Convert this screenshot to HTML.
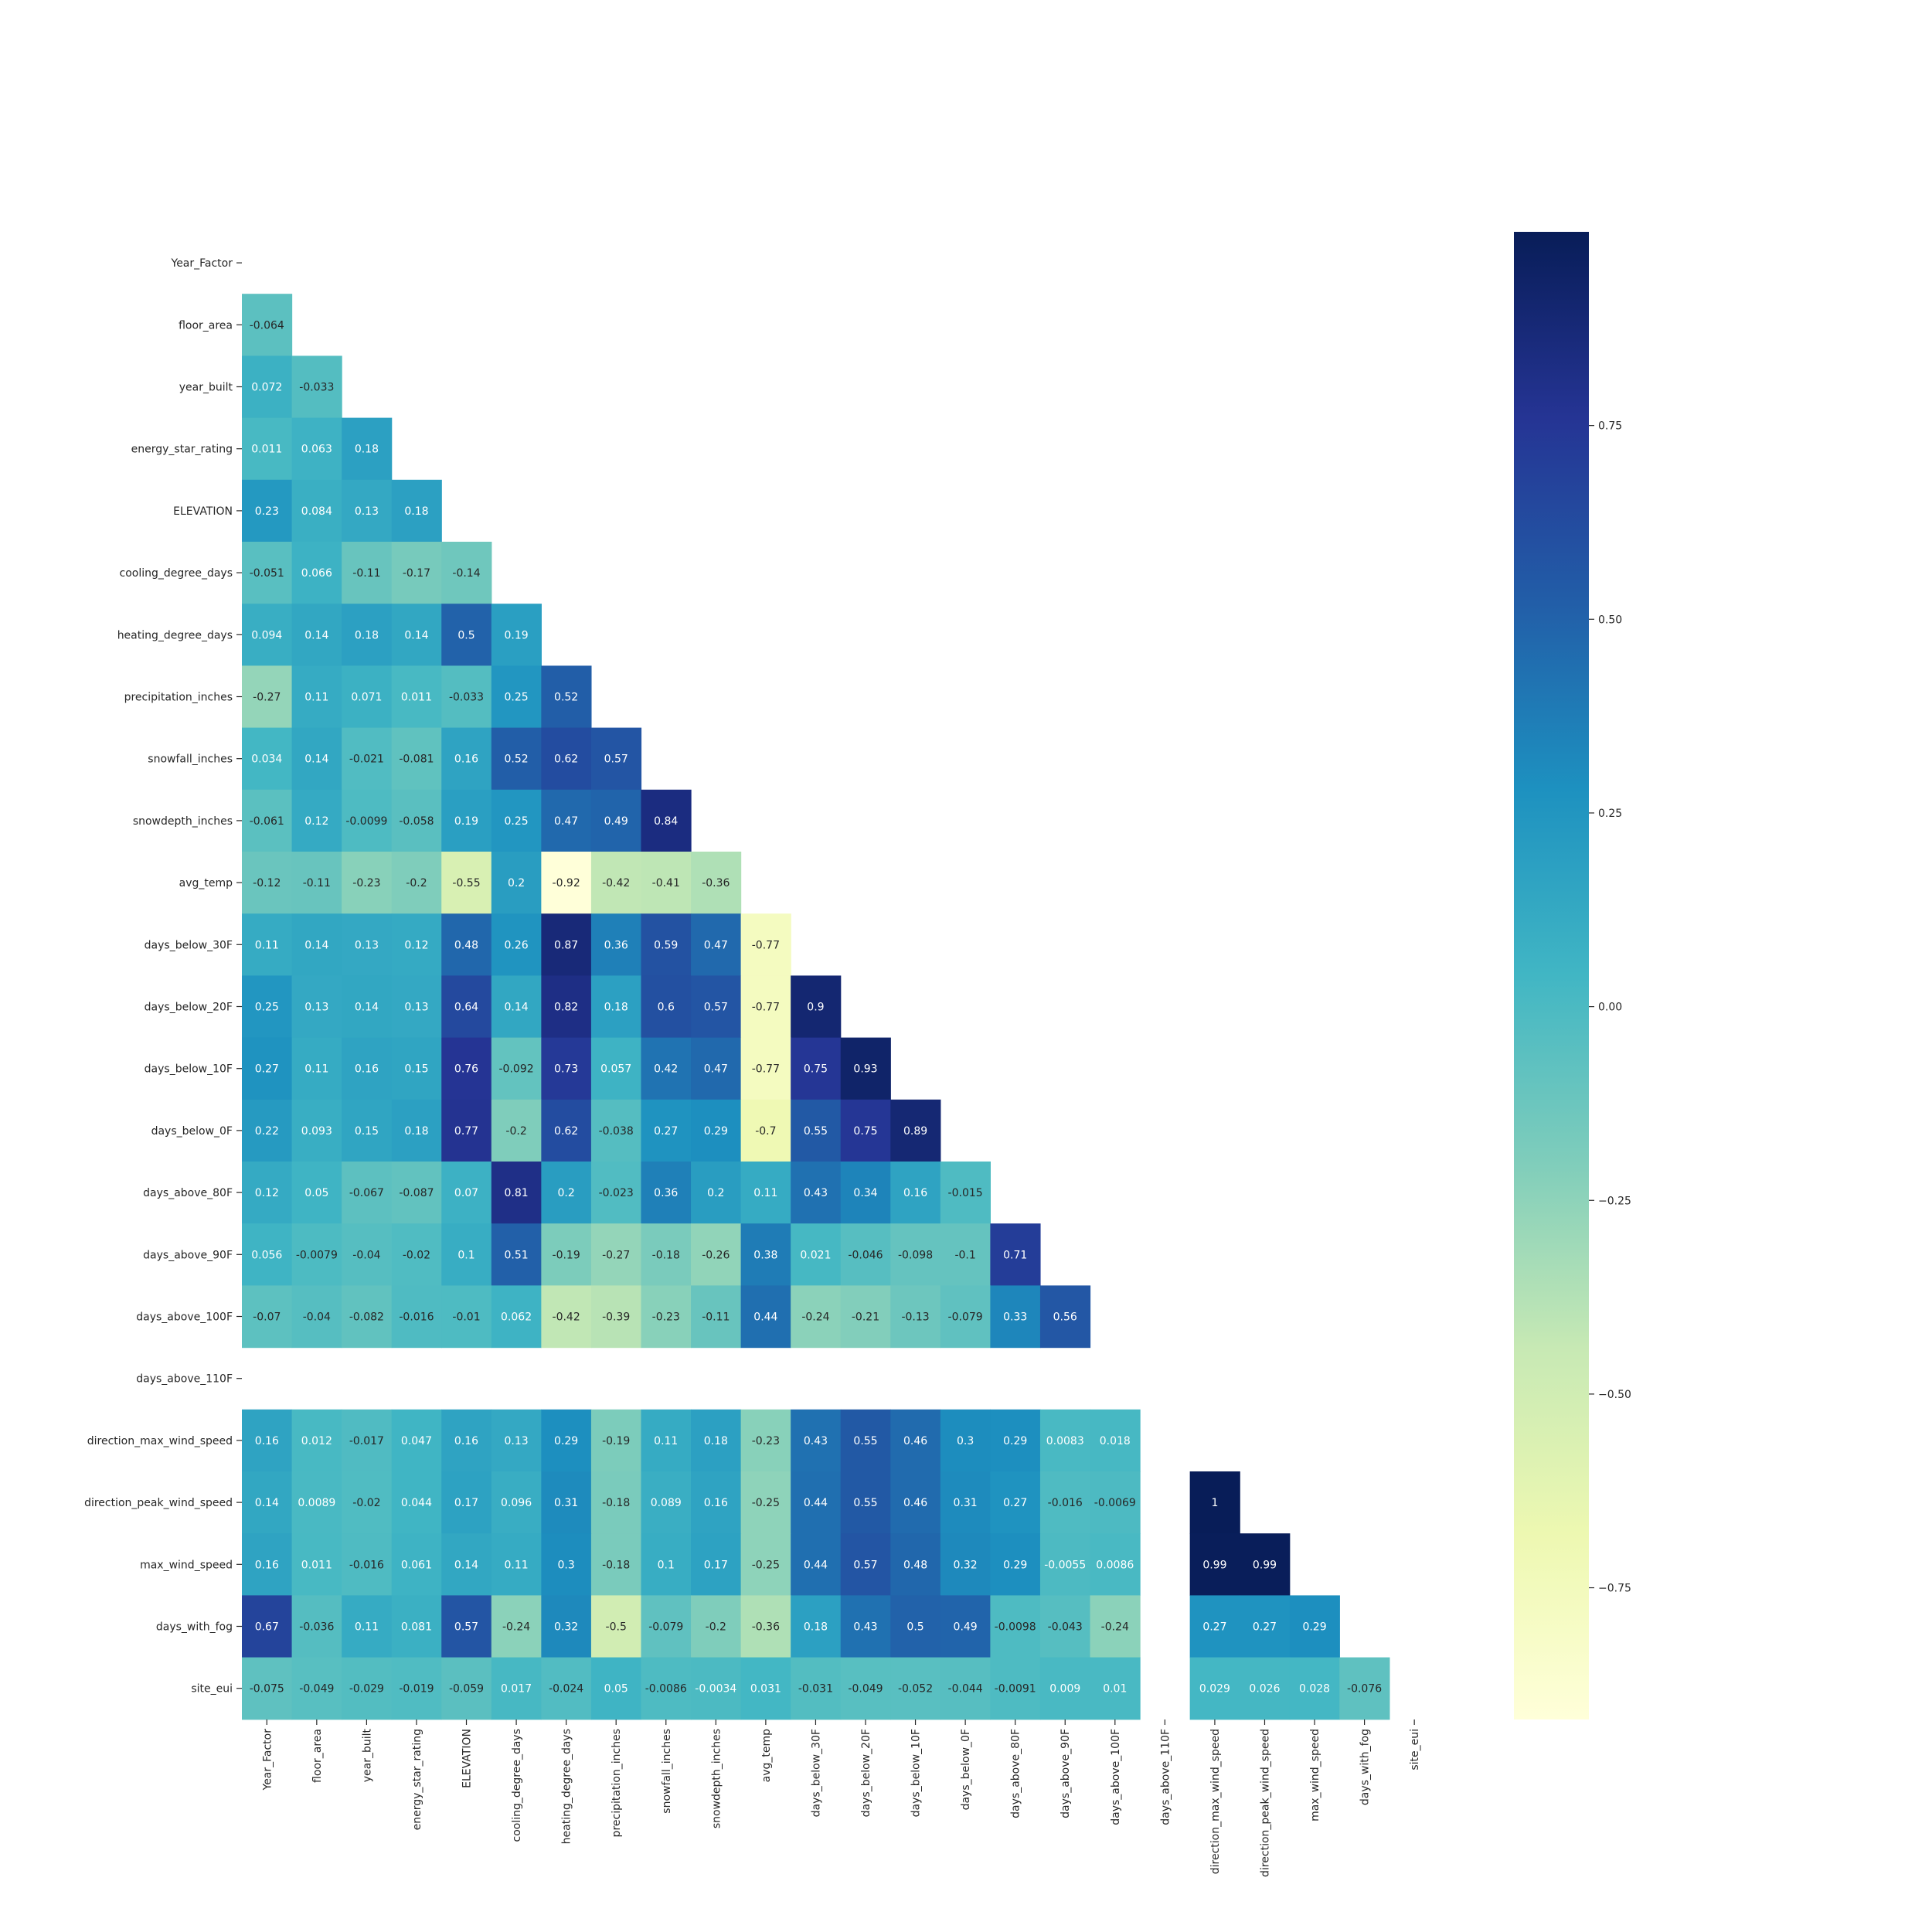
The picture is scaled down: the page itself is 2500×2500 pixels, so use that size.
<!DOCTYPE html>
<html><head><meta charset="utf-8"><style>
body{margin:0;background:#fff}
svg{display:block}
text{font-family:"DejaVu Sans","Liberation Sans",sans-serif}
</style></head><body>
<svg id="chart" width="2500" height="2500" viewBox="0 0 2500 2500" xmlns="http://www.w3.org/2000/svg">
<defs><linearGradient id="cbgrad" x1="0" y1="1" x2="0" y2="0">
<stop offset="0" stop-color="#ffffd9"/><stop offset="0.125" stop-color="#edf8b1"/><stop offset="0.25" stop-color="#c7e9b4"/><stop offset="0.375" stop-color="#7fcdbb"/><stop offset="0.5" stop-color="#41b6c4"/><stop offset="0.625" stop-color="#1d91c0"/><stop offset="0.75" stop-color="#225ea8"/><stop offset="0.875" stop-color="#253494"/><stop offset="1" stop-color="#081d58"/>
</linearGradient></defs>
<g id="cells"></g>
<g id="ylabels"></g>
<g id="xlabels"></g>
<rect x="1959" y="300" width="97" height="1925" fill="url(#cbgrad)"/>
<g id="cbticks"></g>
</svg>
<script>
const labels = ["Year_Factor","floor_area","year_built","energy_star_rating","ELEVATION","cooling_degree_days","heating_degree_days","precipitation_inches","snowfall_inches","snowdepth_inches","avg_temp","days_below_30F","days_below_20F","days_below_10F","days_below_0F","days_above_80F","days_above_90F","days_above_100F","days_above_110F","direction_max_wind_speed","direction_peak_wind_speed","max_wind_speed","days_with_fog","site_eui"];
const rowValues = [
[],
[-0.064],
[0.072,-0.033],
[0.011,0.063,0.18],
[0.23,0.084,0.13,0.18],
[-0.051,0.066,-0.11,-0.17,-0.14],
[0.094,0.14,0.18,0.14,0.5,0.19],
[-0.27,0.11,0.071,0.011,-0.033,0.25,0.52],
[0.034,0.14,-0.021,-0.081,0.16,0.52,0.62,0.57],
[-0.061,0.12,-0.0099,-0.058,0.19,0.25,0.47,0.49,0.84],
[-0.12,-0.11,-0.23,-0.2,-0.55,0.2,-0.92,-0.42,-0.41,-0.36],
[0.11,0.14,0.13,0.12,0.48,0.26,0.87,0.36,0.59,0.47,-0.77],
[0.25,0.13,0.14,0.13,0.64,0.14,0.82,0.18,0.6,0.57,-0.77,0.9],
[0.27,0.11,0.16,0.15,0.76,-0.092,0.73,0.057,0.42,0.47,-0.77,0.75,0.93],
[0.22,0.093,0.15,0.18,0.77,-0.2,0.62,-0.038,0.27,0.29,-0.7,0.55,0.75,0.89],
[0.12,0.05,-0.067,-0.087,0.07,0.81,0.2,-0.023,0.36,0.2,0.11,0.43,0.34,0.16,-0.015],
[0.056,-0.0079,-0.04,-0.02,0.1,0.51,-0.19,-0.27,-0.18,-0.26,0.38,0.021,-0.046,-0.098,-0.1,0.71],
[-0.07,-0.04,-0.082,-0.016,-0.01,0.062,-0.42,-0.39,-0.23,-0.11,0.44,-0.24,-0.21,-0.13,-0.079,0.33,0.56],
[null,null,null,null,null,null,null,null,null,null,null,null,null,null,null,null,null,null],
[0.16,0.012,-0.017,0.047,0.16,0.13,0.29,-0.19,0.11,0.18,-0.23,0.43,0.55,0.46,0.3,0.29,0.0083,0.018,null],
[0.14,0.0089,-0.02,0.044,0.17,0.096,0.31,-0.18,0.089,0.16,-0.25,0.44,0.55,0.46,0.31,0.27,-0.016,-0.0069,null,1],
[0.16,0.011,-0.016,0.061,0.14,0.11,0.3,-0.18,0.1,0.17,-0.25,0.44,0.57,0.48,0.32,0.29,-0.0055,0.0086,null,0.99,0.99],
[0.67,-0.036,0.11,0.081,0.57,-0.24,0.32,-0.5,-0.079,-0.2,-0.36,0.18,0.43,0.5,0.49,-0.0098,-0.043,-0.24,null,0.27,0.27,0.29],
[-0.075,-0.049,-0.029,-0.019,-0.059,0.017,-0.024,0.05,-0.0086,-0.0034,0.031,-0.031,-0.049,-0.052,-0.044,-0.0091,0.009,0.01,null,0.029,0.026,0.028,-0.076]
];
const cbTicks = [0.75,0.5,0.25,0,-0.25,-0.5,-0.75];
const cbTickLabels = ["0.75","0.50","0.25","0.00","\u22120.25","\u22120.50","\u22120.75"];

const VMIN=-0.92, VMAX=1.0;
const X0=313, Y0=300, CW=64.56, CH=80.2;
const CB_TOP=300, CB_BOT=2225;
const xPos = j => X0 + j*CW;
const yPos = i => Y0 + i*CH;
const cbY = v => CB_TOP + (VMAX - v)/(VMAX-VMIN)*(CB_BOT-CB_TOP);
const stops=[[255,255,217],[237,248,177],[199,233,180],[127,205,187],[65,182,196],[29,145,192],[34,94,168],[37,52,148],[8,29,88]];
function cmap(v){
  let t=(v-VMIN)/(VMAX-VMIN); t=Math.max(0,Math.min(1,t))*8;
  const k=Math.min(7,Math.floor(t)), f=t-k;
  return stops[k].map((c,n)=>c+(stops[k+1][n]-c)*f);
}
function lum(c){return c.map(x=>{x/=255;return x<=0.03928?x/12.92:Math.pow((x+0.055)/1.055,2.4)}).reduce((a,x,n)=>a+x*[0.2126,0.7152,0.0722][n],0);}
const NS="http://www.w3.org/2000/svg";
function mk(tag,attrs,parent){const e=document.createElementNS(NS,tag);for(const k in attrs)e.setAttribute(k,attrs[k]);parent.appendChild(e);return e;}
const cells=document.getElementById('cells');
rowValues.forEach((row,i)=>{
  row.forEach((v,j)=>{
    if(v===null||v===undefined) return;
    const c=cmap(v);
    const r=mk('rect',{x:xPos(j),y:yPos(i),width:CW+0.6,height:CH+0.6,fill:`rgb(${c.map(Math.round).join(',')})`},cells);
    
    
    const t=mk('text',{x:xPos(j)+CW/2,y:yPos(i)+CH/2+5,'text-anchor':'middle','font-size':14,fill:lum(c)>0.408?'#262626':'#ffffff'},cells);
    t.textContent=String(v);
    
    
  });
});
const yl=document.getElementById('ylabels'), xl=document.getElementById('xlabels');
labels.forEach((lab,i)=>{
  const cy=yPos(i)+CH/2;
  mk('line',{x1:X0-7,x2:X0,y1:cy,y2:cy,stroke:'#262626','stroke-width':1.2},yl);
  const t=mk('text',{x:X0-12,y:cy+5,'text-anchor':'end','font-size':14,fill:'#262626'},yl);
  t.textContent=lab;
  
  
  const cx=xPos(i)+CW/2;
  mk('line',{x1:cx,x2:cx,y1:CB_BOT,y2:CB_BOT+7,stroke:'#262626','stroke-width':1.2},xl);
  const u=mk('text',{x:0,y:0,'text-anchor':'end','font-size':14,fill:'#262626',transform:`translate(${cx+5},${CB_BOT+12}) rotate(-90)`},xl);
  u.textContent=lab;
  
  
});
const cb=document.getElementById('cbticks');
cbTicks.forEach((v,k)=>{
  const y=cbY(v);
  mk('line',{x1:2056,x2:2063,y1:y,y2:y,stroke:'#262626','stroke-width':1.2},cb);
  const t=mk('text',{x:2068,y:y+5,'font-size':14,fill:'#262626'},cb);
  t.textContent=cbTickLabels[k];
  
  
});
</script>
</body></html>
